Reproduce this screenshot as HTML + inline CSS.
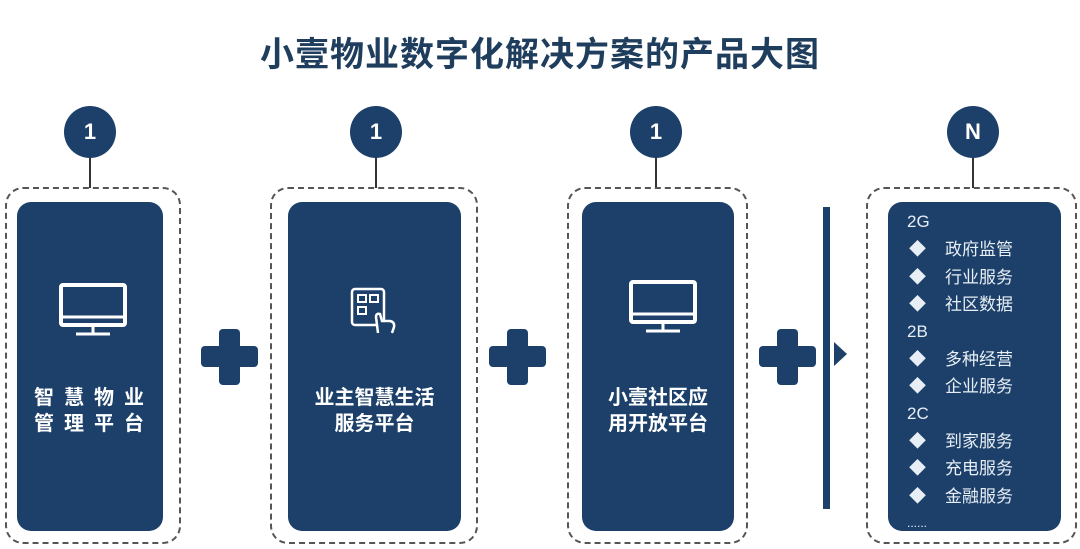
<!DOCTYPE html>
<html><head><meta charset="utf-8"><style>
body{margin:0;width:1080px;height:549px;background:#fff;position:relative;overflow:hidden;font-family:"Liberation Sans","Noto Sans CJK SC",sans-serif;}
.a{position:absolute}
.title{left:0;width:1080px;top:27px;text-align:center;font-size:34px;font-weight:bold;color:#1f3d5c;letter-spacing:1px}
.dash{border:2px dashed #555;border-radius:18px;box-sizing:border-box}
.card{background:#1c406a;border-radius:14px}
.circ{width:52px;height:52px;border-radius:50%;background:#1c406a;color:#fff;font-weight:bold;font-size:22px;text-align:center;line-height:52px}
.stem{width:2px;background:#333}
.lbl{color:#fff;font-weight:bold;font-size:20px;text-align:center;line-height:26px}
.plus{background:#1c406a;border-radius:4px}
.li{color:#e8eef5;font-size:17px;line-height:20px}
</style></head><body>
<div class="a title">小壹物业数字化解决方案的产品大图</div>

<div class="a circ" style="left:64px;top:106px">1</div>
<div class="a stem" style="left:89px;top:158px;height:30px"></div>
<div class="a dash" style="left:5px;top:187px;width:176px;height:357px"></div>
<div class="a card" style="left:17px;top:202px;width:146px;height:329px"></div>
<svg class="a" style="left:58px;top:283px" width="70" height="55" viewBox="0 0 70 55"><rect x="3" y="2" width="64" height="40" rx="2" fill="none" stroke="#fff" stroke-width="4"/><line x1="3" y1="34" x2="67" y2="34" stroke="#fff" stroke-width="3"/><line x1="35" y1="42" x2="35" y2="50" stroke="#fff" stroke-width="3"/><line x1="18" y1="51" x2="52" y2="51" stroke="#fff" stroke-width="3"/></svg>
<div class="a lbl" style="left:17px;width:146px;top:385px;letter-spacing:10px;padding-left:8px;box-sizing:border-box">智慧物业<br>管理平台</div>

<div class="a plus" style="left:201px;top:346px;width:57px;height:21px"></div>
<div class="a plus" style="left:219px;top:329px;width:21px;height:56px"></div>

<div class="a circ" style="left:350px;top:106px">1</div>
<div class="a stem" style="left:375px;top:158px;height:30px"></div>
<div class="a dash" style="left:270px;top:187px;width:208px;height:357px"></div>
<div class="a card" style="left:288px;top:202px;width:173px;height:329px"></div>
<svg class="a" style="left:350px;top:287px" width="52" height="50" viewBox="0 0 52 50"><rect x="2" y="2" width="32" height="36" rx="3" fill="none" stroke="#fff" stroke-width="2.5"/><rect x="8" y="8" width="8" height="7" fill="none" stroke="#fff" stroke-width="2"/><rect x="20" y="8" width="8" height="7" fill="none" stroke="#fff" stroke-width="2"/><rect x="8" y="20" width="8" height="7" fill="none" stroke="#fff" stroke-width="2"/><path d="M28 46 L26 30 Q26 26 30 27 L32 34 L40 34 Q45 35 44 40 L42 46" fill="#1c406a" stroke="#fff" stroke-width="2.5"/></svg>
<div class="a lbl" style="left:288px;width:173px;top:385px">业主智慧生活<br>服务平台</div>

<div class="a plus" style="left:489px;top:346px;width:57px;height:21px"></div>
<div class="a plus" style="left:507px;top:329px;width:21px;height:56px"></div>

<div class="a circ" style="left:630px;top:106px">1</div>
<div class="a stem" style="left:655px;top:158px;height:30px"></div>
<div class="a dash" style="left:567px;top:187px;width:181px;height:357px"></div>
<div class="a card" style="left:582px;top:202px;width:152px;height:329px"></div>
<svg class="a" style="left:628px;top:280px" width="70" height="55" viewBox="0 0 70 55"><rect x="3" y="2" width="64" height="40" rx="2" fill="none" stroke="#fff" stroke-width="4"/><line x1="3" y1="34" x2="67" y2="34" stroke="#fff" stroke-width="3"/><line x1="35" y1="42" x2="35" y2="50" stroke="#fff" stroke-width="3"/><line x1="18" y1="51" x2="52" y2="51" stroke="#fff" stroke-width="3"/></svg>
<div class="a lbl" style="left:582px;width:152px;top:385px">小壹社区应<br>用开放平台</div>

<div class="a plus" style="left:759px;top:346px;width:57px;height:21px"></div>
<div class="a plus" style="left:777px;top:329px;width:21px;height:56px"></div>
<div class="a" style="left:823px;top:207px;width:7px;height:302px;background:#1c406a"></div>
<svg class="a" style="left:834px;top:342px" width="14" height="26"><polygon points="0,0 13,12 0,24" fill="#1c406a"/></svg>

<div class="a circ" style="left:947px;top:106px">N</div>
<div class="a stem" style="left:972px;top:158px;height:30px"></div>
<div class="a dash" style="left:866px;top:187px;width:211px;height:357px"></div>
<div class="a card" style="left:888px;top:202px;width:173px;height:329px"></div>
<div class="a li" style="left:907px;top:212px">2G</div>
<div class="a li" style="left:909px;top:240px">◆<span style="margin-left:19px">政府监管</span></div>
<div class="a li" style="left:909px;top:268px">◆<span style="margin-left:19px">行业服务</span></div>
<div class="a li" style="left:909px;top:295px">◆<span style="margin-left:19px">社区数据</span></div>
<div class="a li" style="left:907px;top:322px">2B</div>
<div class="a li" style="left:909px;top:350px">◆<span style="margin-left:19px">多种经营</span></div>
<div class="a li" style="left:909px;top:377px">◆<span style="margin-left:19px">企业服务</span></div>
<div class="a li" style="left:907px;top:404px">2C</div>
<div class="a li" style="left:909px;top:432px">◆<span style="margin-left:19px">到家服务</span></div>
<div class="a li" style="left:909px;top:459px">◆<span style="margin-left:19px">充电服务</span></div>
<div class="a li" style="left:909px;top:487px">◆<span style="margin-left:19px">金融服务</span></div>
<div class="a li" style="left:907px;top:513px;font-size:12px">......</div>
</body></html>
